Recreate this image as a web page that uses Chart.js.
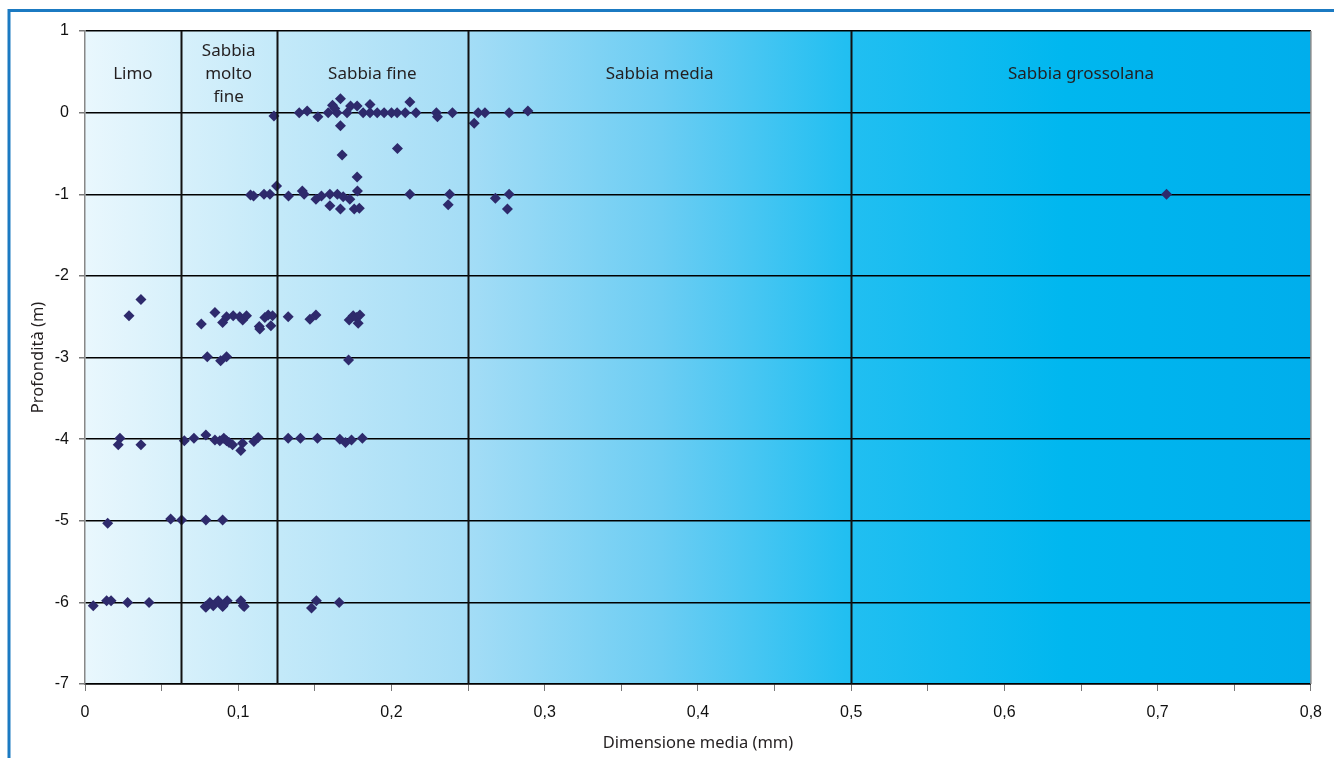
<!DOCTYPE html>
<html>
<head>
<meta charset="utf-8">
<script src="https://cdn.jsdelivr.net/npm/chart.js@4.4.0/dist/chart.umd.min.js"></script>
<style>
  html, body { margin: 0; padding: 0; background: #fff; }
  #wrap { width: 1334px; height: 758px; position: relative; }
</style>
</head>
<body>
<div id="wrap"><canvas id="chart"></canvas></div>
<script>
// --- Data ---
// dimensione media (mm)
const diamX = [
  // ~0 m
  0.1233, 0.1398, 0.145, 0.152, 0.1587, 0.1615, 0.163, 0.1644, 0.1667, 0.1667, 0.1678, 0.171,
  0.1733, 0.1776, 0.1815, 0.186, 0.186, 0.1907, 0.1952, 0.2, 0.2037, 0.2039, 0.209, 0.212,
  0.216, 0.2293, 0.23, 0.2398, 0.254, 0.2566, 0.261, 0.2768, 0.289,
  // ~-1 m
  0.108, 0.110, 0.1168, 0.1207, 0.125, 0.1328, 0.1418, 0.143, 0.1507, 0.1543, 0.1598, 0.1598,
  0.1647, 0.1667, 0.1685, 0.1728, 0.1757, 0.179, 0.1776, 0.1778, 0.212, 0.237, 0.238, 0.2678,
  0.2757, 0.2768, 0.7058,
  // ~-2.5 / -3 m
  0.0287, 0.0365, 0.0759, 0.0848, 0.0898, 0.0924, 0.0967, 0.101, 0.1029, 0.1054, 0.1137, 0.1141,
  0.1174, 0.1196, 0.1224, 0.1213, 0.1326, 0.1468, 0.1507, 0.1724, 0.175, 0.1772, 0.1794, 0.1783,
  0.0798, 0.0885, 0.0924, 0.172,
  // ~-4 m
  0.0228, 0.0217, 0.0365, 0.0648, 0.0711, 0.0789, 0.0848, 0.088, 0.0906, 0.0924, 0.094, 0.0963,
  0.1028, 0.1017, 0.1102, 0.113, 0.1326, 0.1406, 0.1517, 0.1663, 0.17, 0.1739, 0.181,
  // ~-5 m
  0.0148, 0.0559, 0.063, 0.0789, 0.0898,
  // ~-6 m
  0.0054, 0.0141, 0.017, 0.0278, 0.0418, 0.0789, 0.0815, 0.0837, 0.0869, 0.0898, 0.0928, 0.1017,
  0.1033, 0.0785, 0.0902, 0.1039, 0.1478, 0.151, 0.1659
];
// profondità (m)
const depthY = [
  -0.04, 0, 0.02, -0.05, 0, 0.09, 0.05, 0, 0.17, -0.16, -0.52, 0,
  0.08, 0.08, 0, 0.1, 0, 0, 0, 0, 0, -0.44, 0, 0.13,
  0, 0, -0.05, 0, -0.13, 0, 0, 0, 0.02,
  -1.01, -1.02, -1, -1, -0.9, -1.02, -0.96, -1, -1.06, -1.02, -1, -1.14,
  -1, -1.18, -1.03, -1.06, -1.18, -1.17, -0.79, -0.96, -1, -1.13, -1, -1.05,
  -1.18, -1, -1,
  -2.49, -2.29, -2.59, -2.45, -2.57, -2.5, -2.49, -2.5, -2.54, -2.49, -2.62, -2.65,
  -2.51, -2.48, -2.49, -2.61, -2.5, -2.53, -2.48, -2.54, -2.49, -2.51, -2.48, -2.58,
  -2.99, -3.04, -2.99, -3.03,
  -3.99, -4.07, -4.07, -4.02, -3.99, -3.95, -4.01, -4.02, -3.99, -4.02, -4.04, -4.07,
  -4.05, -4.14, -4.03, -3.98, -3.99, -3.99, -3.99, -4, -4.04, -4.01, -3.99,
  -5.03, -4.98, -4.99, -4.99, -4.99,
  -6.04, -5.98, -5.98, -6, -6, -6.06, -6, -6.04, -5.98, -6.05, -5.98, -5.98,
  -6.04, -6.05, -6.04, -6.05, -6.07, -5.98, -6
];

// granulometric classes (mm)
const classNames = [["Limo"], ["Sabbia", "molto", "fine"], ["Sabbia fine"], ["Sabbia media"], ["Sabbia grossolana"]];
const classBounds = [0, 0.0625, 0.125, 0.25, 0.5, 0.8];

const xMin = 0, xMax = 0.8, xStep = 0.05;
const yMin = -7, yMax = 1, yStep = 1;

const points = diamX.map((x, i) => ({ x: x, y: depthY[i] }));

// --- Plugins ---
const backgroundBands = {
  id: 'backgroundBands',
  beforeDraw(chart) {
    const { ctx, chartArea: a } = chart;
    const g = ctx.createLinearGradient(a.left, 0, a.right, 0);
    g.addColorStop(0, '#e9f7fd');
    g.addColorStop(0.08, '#d6f0fb');
    g.addColorStop(0.16, '#c3e9f9');
    g.addColorStop(0.31, '#a5ddf6');
    g.addColorStop(0.47, '#6ccdf3');
    g.addColorStop(0.62, '#22bff1');
    g.addColorStop(0.8, '#00b7ef');
    g.addColorStop(1, '#00aeec');
    ctx.save();
    ctx.fillStyle = g;
    ctx.fillRect(a.left, a.top, a.right - a.left, a.bottom - a.top);
    ctx.restore();
  },
  afterDatasetsDraw(chart) {
    const { ctx, chartArea: a, scales } = chart;
    const xs = scales.x;
    ctx.save();
    // class boundaries
    ctx.strokeStyle = '#111';
    ctx.lineWidth = 2;
    classBounds.slice(1, -1).forEach(b => {
      const px = Math.round(xs.getPixelForValue(b)) + 0.5;
      ctx.beginPath();
      ctx.moveTo(px, a.top);
      ctx.lineTo(px, a.bottom);
      ctx.stroke();
    });
    // right border
    ctx.strokeStyle = '#8a8a8a';
    ctx.lineWidth = 1.5;
    ctx.beginPath();
    ctx.moveTo(a.right, a.top);
    ctx.lineTo(a.right, a.bottom);
    ctx.stroke();
    // class labels
    ctx.fillStyle = '#231f20';
    ctx.font = '17px "Noto Sans"';
    ctx.textAlign = 'center';
    ctx.textBaseline = 'middle';
    const midY = scales.y.getPixelForValue(0.5) + 2;
    classNames.forEach((lines, i) => {
      const cx = xs.getPixelForValue((classBounds[i] + classBounds[i + 1]) / 2);
      const lh = 23;
      const y0 = midY - (lines.length - 1) * lh / 2;
      lines.forEach((t, j) => ctx.fillText(t, cx, y0 + j * lh));
    });
    ctx.restore();
  },
  afterDraw(chart) {
    // blue frame
    const ctx = chart.ctx;
    ctx.save();
    ctx.strokeStyle = '#1b7ac2';
    ctx.lineWidth = 3;
    ctx.beginPath();
    ctx.moveTo(9, 758);
    ctx.lineTo(9, 10.5);
    ctx.lineTo(1334, 10.5);
    ctx.stroke();
    ctx.restore();
  }
};

const ctx = document.getElementById('chart').getContext('2d');
new Chart(ctx, {
  type: 'scatter',
  data: {
    datasets: [{
      label: 'Campioni',
      data: points,
      pointStyle: 'rectRot',
      pointRadius: 5.5,
      pointHoverRadius: 5.5,
      backgroundColor: '#2e2a6c',
      borderColor: '#2e2a6c',
      borderWidth: 0
    }]
  },
  options: {
    responsive: true,
    maintainAspectRatio: false,
    animation: false,
    layout: { padding: { left: 0, right: 22, top: 31, bottom: 0 } },
    plugins: { legend: { display: false }, tooltip: { enabled: false } },
    scales: {
      x: {
        type: 'linear',
        min: xMin, max: xMax,
        afterFit(scale) { scale.height = 74; },
        border: { color: '#000', width: 1.5 },
        grid: { drawOnChartArea: false, drawTicks: true, tickLength: 7, color: '#777' },
        ticks: {
          stepSize: xStep,
          color: '#111',
          font: { family: '"Liberation Sans", Arial', size: 16 },
          padding: 12,
          maxRotation: 0,
          callback: (v) => {
            const r = Math.round(v * 100);
            if (r % 10 !== 0) return '';
            return (r / 100).toString().replace('.', ',');
          }
        },
        title: {
          display: true,
          text: 'Dimensione media (mm)',
          color: '#231f20',
          font: { family: '"Noto Sans"', size: 16.5 },
          padding: { top: 4, bottom: 5 }
        }
      },
      y: {
        type: 'linear',
        min: yMin, max: yMax,
        afterFit(scale) { scale.width = 85; },
        border: { color: '#888', width: 1.5 },
        grid: { color: '#000', lineWidth: 1.5, tickLength: 6, tickColor: '#777' },
        ticks: {
          stepSize: yStep,
          color: '#111',
          font: { family: '"Liberation Sans", Arial', size: 16 },
          padding: 10
        },
        title: {
          display: true,
          text: 'Profondità (m)',
          color: '#231f20',
          font: { family: '"Noto Sans"', size: 16.5 },
          padding: { top: 28, bottom: 0 }
        }
      }
    }
  },
  plugins: [backgroundBands]
});
</script>
</body>
</html>
